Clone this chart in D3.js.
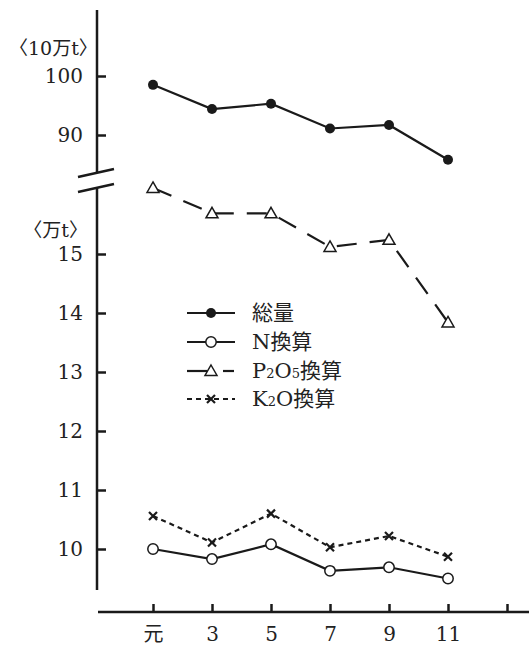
<!DOCTYPE html>
<html><head><meta charset="utf-8">
<script src="https://cdn.jsdelivr.net/npm/d3@7/dist/d3.min.js"></script>
<style>
body{margin:0;background:#fff;}
text{font-family:"DejaVu Serif","Noto Sans CJK JP",serif;fill:#222;}
</style></head>
<body><svg id="c" width="529" height="646"></svg>
<script>
const years = [1,3,5,7,9,11];
const xTickValues = [1,3,5,7,9,11,13];
const xTickLabels = ["元","3","5","7","9","11",""];
const upperTicks = [90,100];
const lowerTicks = [10,11,12,13,14,15];
const total = [98.5,94.4,95.3,91.1,91.7,85.8];      // 10万t
const nConv = [10.0,9.83,10.08,9.63,9.69,9.50];     // 万t
const p2o5 = [16.12,15.69,15.69,15.12,15.24,13.84]; // 万t
const k2o = [10.56,10.11,10.6,10.03,10.22,9.87];    // 万t
const legendNames = ["総量","N換算","P2O5換算","K2O換算"];

const svg = d3.select("#c");
const ink = "#1a1a1a";
const x = d3.scaleLinear().domain([1,13]).range([153,507]);
const yU = d3.scaleLinear().domain([90,100]).range([135,76]);
const yL = d3.scaleLinear().domain([10,15]).range([549,254]);
const ax = 97;

// y axis segments
svg.append("line").attr("x1",ax).attr("x2",ax).attr("y1",10).attr("y2",173).attr("stroke",ink).attr("stroke-width",2.5);
svg.append("line").attr("x1",ax).attr("x2",ax).attr("y1",188).attr("y2",590).attr("stroke",ink).attr("stroke-width",2.5);
// break marks
svg.append("line").attr("x1",78).attr("y1",177).attr("x2",114).attr("y2",169).attr("stroke",ink).attr("stroke-width",2.5);
svg.append("line").attr("x1",78).attr("y1",192).attr("x2",114).attr("y2",184).attr("stroke",ink).attr("stroke-width",2.5);

function styleAxis(g){
  g.select(".domain").remove();
  g.selectAll(".tick line").attr("stroke",ink).attr("stroke-width",2.5);
  g.selectAll(".tick text").attr("font-size",20).style("fill","#222");
}
const gU = svg.append("g").attr("transform",`translate(${ax},0)`)
  .call(d3.axisLeft(yU).tickValues(upperTicks).tickFormat(d3.format("d")).tickSizeInner(-9).tickSizeOuter(0).tickPadding(14));
styleAxis(gU);
const gL = svg.append("g").attr("transform",`translate(${ax},0)`)
  .call(d3.axisLeft(yL).tickValues(lowerTicks).tickFormat(d3.format("d")).tickSizeInner(-9).tickSizeOuter(0).tickPadding(14));
styleAxis(gL);

// unit labels
svg.append("text").attr("x",9).attr("y",55).attr("font-size",19).text("〈10万t〉");
svg.append("text").attr("x",88).attr("y",237).attr("text-anchor","end").attr("font-size",19).text("〈万t〉");

// x axis
const xA = svg.append("g").attr("transform","translate(0,612)")
  .call(d3.axisBottom(x).tickValues(xTickValues).tickFormat((d,i)=>xTickLabels[i]).tickSizeInner(-8).tickSizeOuter(0).tickPadding(15));
xA.select(".domain").remove();
xA.selectAll(".tick line").attr("stroke",ink).attr("stroke-width",2.5);
xA.selectAll(".tick text").attr("font-size",20).style("fill","#222");
svg.append("line").attr("x1",98).attr("x2",529).attr("y1",612).attr("y2",612).attr("stroke",ink).attr("stroke-width",2.5);

// series
const series = [
  {vals: total, y: yU, dash: null, marker: "dot"},
  {vals: nConv, y: yL, dash: null, marker: "circle"},
  {vals: p2o5, y: yL, dash: "20,13", marker: "tri"},
  {vals: k2o, y: yL, dash: "5,4", marker: "x"}
];
function drawMarker(g, type, cx, cy){
  if(type==="dot") g.append("circle").attr("cx",cx).attr("cy",cy).attr("r",5).attr("fill",ink);
  else if(type==="circle") g.append("circle").attr("cx",cx).attr("cy",cy).attr("r",5.2).attr("fill","#fff").attr("stroke",ink).attr("stroke-width",1.5);
  else if(type==="tri") g.append("path").attr("d",`M${cx},${cy-6}L${cx+6},${cy+4.5}L${cx-6},${cy+4.5}Z`).attr("fill","#fff").attr("stroke",ink).attr("stroke-width",1.5);
  else if(type==="x") g.append("path").attr("d",`M${cx-4},${cy-4}L${cx+4},${cy+4}M${cx+4},${cy-4}L${cx-4},${cy+4}`).attr("stroke",ink).attr("stroke-width",2.2);
}
series.forEach(s=>{
  const line = d3.line().x((d,i)=>x(years[i])).y(d=>s.y(d));
  svg.append("path").datum(s.vals).attr("d",line).attr("fill","none").attr("stroke",ink).attr("stroke-width",2.2)
    .attr("stroke-dasharray",s.dash);
  const g = svg.append("g");
  s.vals.forEach((v,i)=>drawMarker(g,s.marker,x(years[i]),s.y(v)));
});

// legend
const lg = svg.append("g");
const rows = [313,342,371,399];
series.forEach((s,i)=>{
  const cy = rows[i];
  if(s.marker==="tri"){
    lg.append("line").attr("x1",187).attr("x2",207).attr("y1",cy).attr("y2",cy).attr("stroke",ink).attr("stroke-width",2.2);
    lg.append("line").attr("x1",223).attr("x2",234).attr("y1",cy).attr("y2",cy).attr("stroke",ink).attr("stroke-width",2.2);
  } else {
    lg.append("line").attr("x1",187).attr("x2",235).attr("y1",cy).attr("y2",cy).attr("stroke",ink).attr("stroke-width",2.2)
      .attr("stroke-dasharray",s.dash);
  }
  drawMarker(lg,s.marker,211,cy);
  const t = lg.append("text").attr("x",252).attr("y",cy+7).attr("font-size",21);
  const name = legendNames[i];
  if(name.startsWith("P2O5")){
    t.append("tspan").text("P");
    t.append("tspan").attr("font-size",13).text("2");
    t.append("tspan").text("O");
    t.append("tspan").attr("font-size",13).text("5");
    t.append("tspan").text("換算");
  } else if(name.startsWith("K2O")){
    t.append("tspan").text("K");
    t.append("tspan").attr("font-size",13).text("2");
    t.append("tspan").text("O換算");
  } else t.text(name);
});
</script></body></html>
